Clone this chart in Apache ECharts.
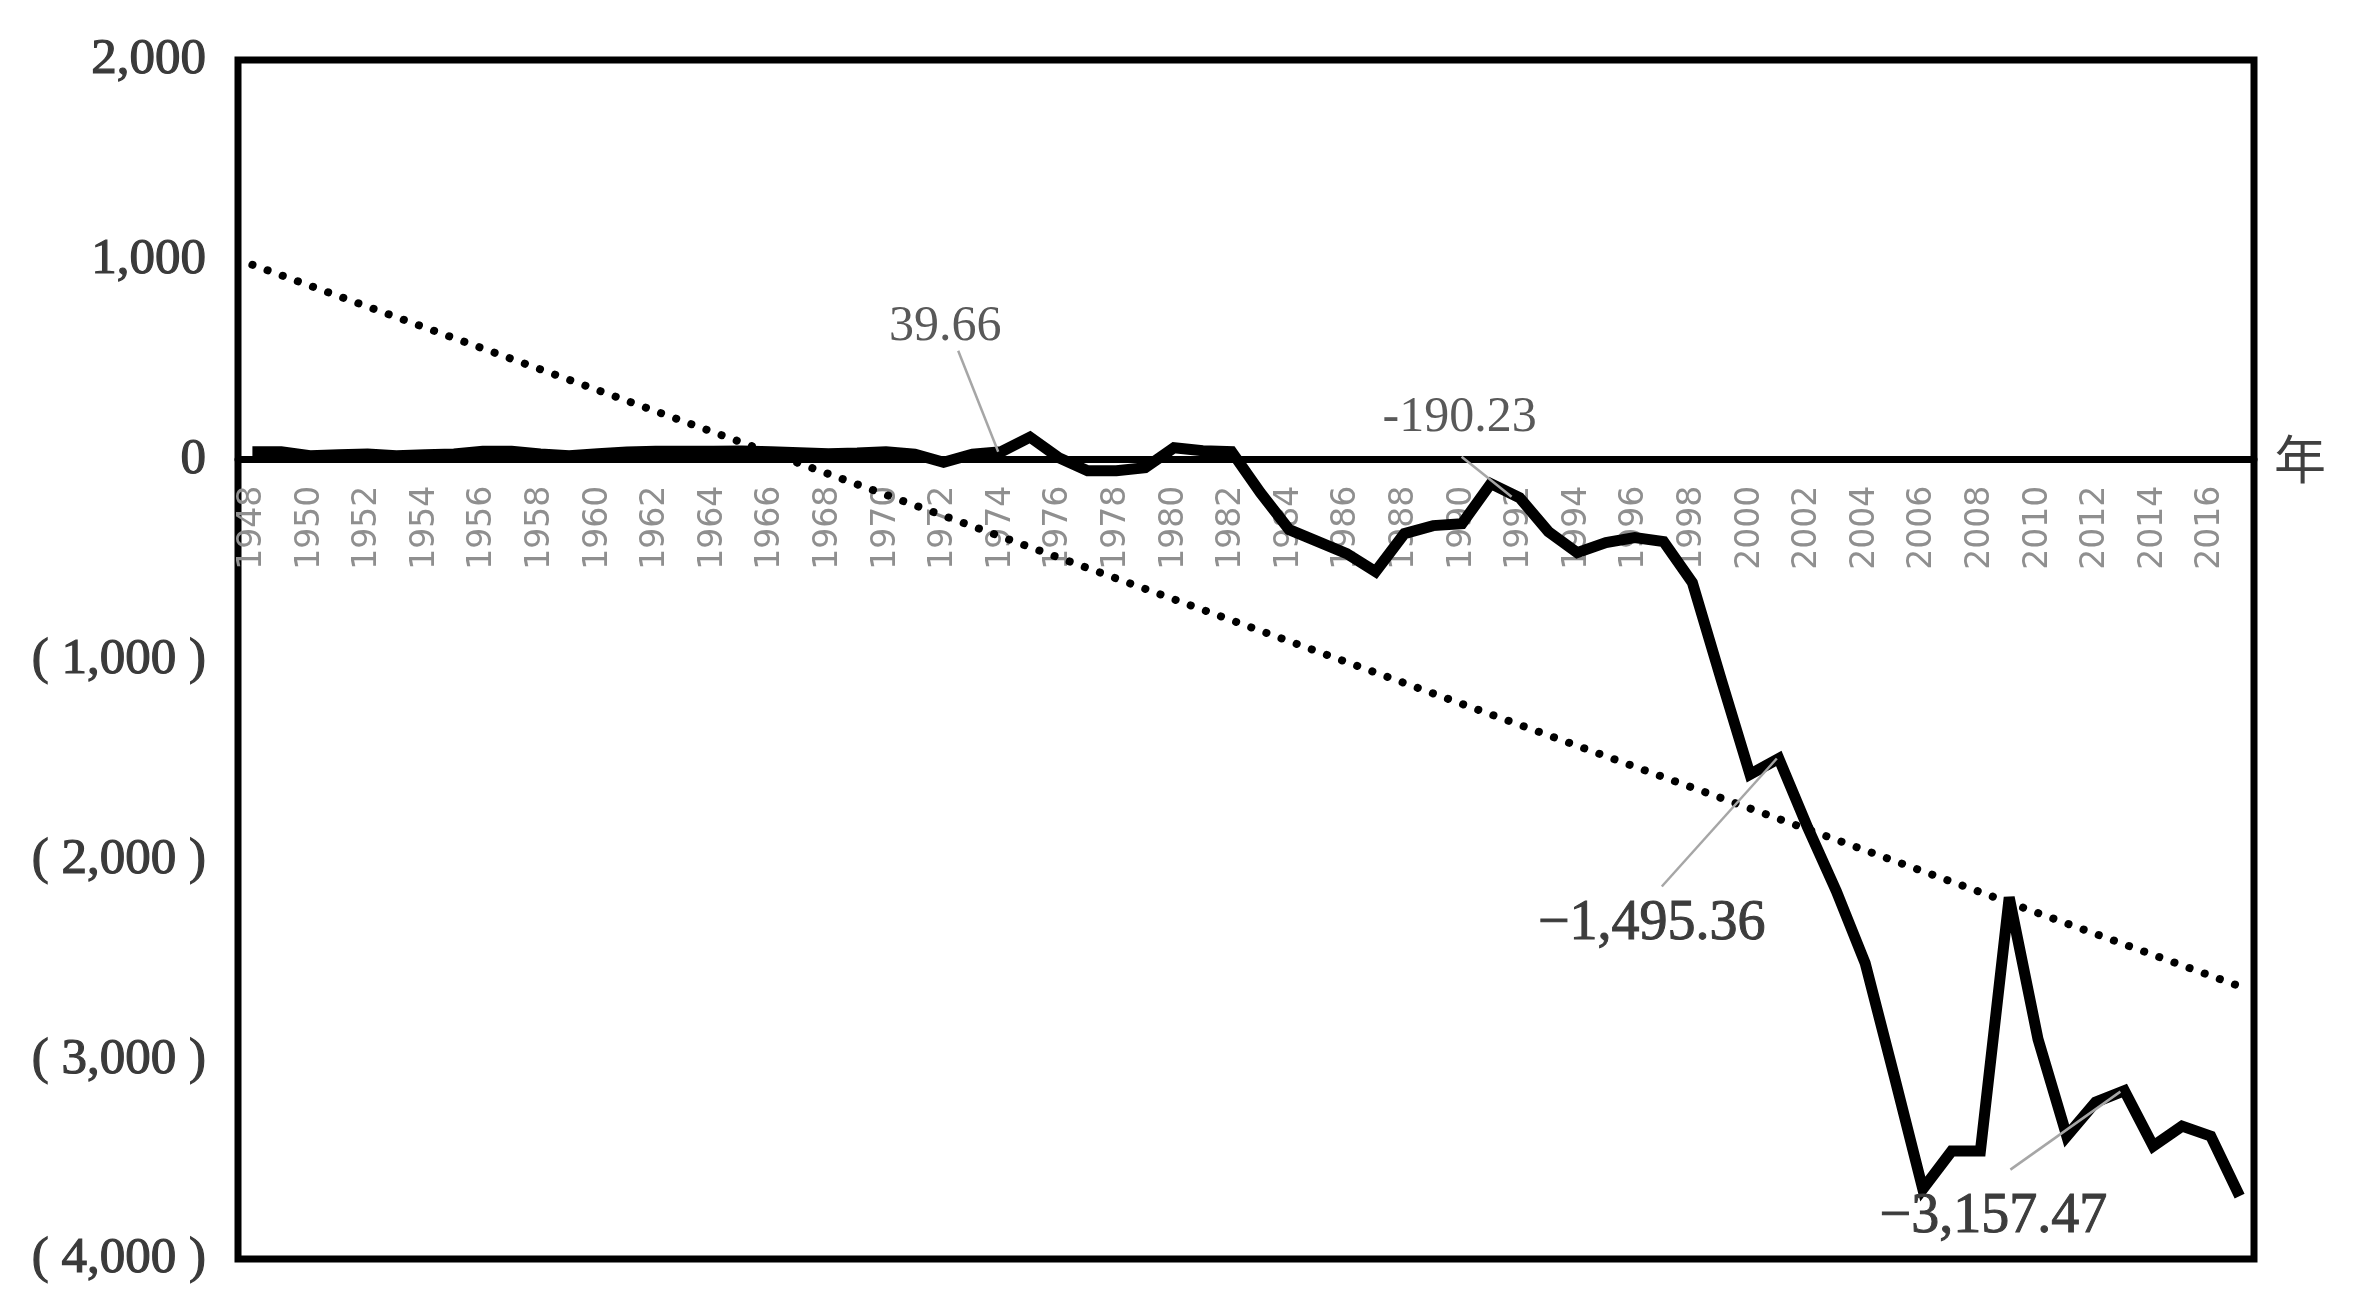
<!DOCTYPE html>
<html>
<head>
<meta charset="utf-8">
<script src="https://cdn.jsdelivr.net/npm/echarts/dist/echarts.min.js"></script>
<style>
html,body{margin:0;padding:0;background:#ffffff;}
#chart{width:2361px;height:1310px;}
</style>
</head>
<body>
<div id="chart"></div>
<script>
// ---------------- data ----------------
const years = ['1948','1949','1950','1951','1952','1953','1954','1955','1956','1957',
  '1958','1959','1960','1961','1962','1963','1964','1965','1966','1967',
  '1968','1969','1970','1971','1972','1973','1974','1975','1976','1977',
  '1978','1979','1980','1981','1982','1983','1984','1985','1986','1987',
  '1988','1989','1990','1991','1992','1993','1994','1995','1996','1997',
  '1998','1999','2000','2001','2002','2003','2004','2005','2006','2007',
  '2008','2009','2010','2011','2012','2013','2014','2015','2016','2017'];

const surplus = [40, 40, 20, 25, 28, 20, 25, 28, 42, 42,
  28, 20, 30, 38, 42, 42, 42, 43, 40, 35,
  30, 33, 40, 27, -13, 27, 39.66, 113, 10, -55,
  -55, -40, 60, 45, 40, -165, -350, -410, -470, -560,
  -370, -330, -320, -120, -190.23, -360, -465, -415, -390, -410,
  -615, -1100, -1575, -1495.36, -1840, -2160, -2520, -3080, -3650, -3460,
  -3460, -2190, -2900, -3385, -3215, -3157.47, -3435, -3335, -3385, -3685];

const trendYears = ['1948', '2017'];
const trendValues = [975, -2635];

const yTicks = [2000, 1000, 0, -1000, -2000, -3000, -4000];
const yTickLabels = ['2,000', '1,000', '0', '( 1,000 )', '( 2,000 )', '( 3,000 )', '( 4,000 )'];

const xAxisName = '年';

const annoYears = ['1974', '1992', '2001', '2013'];
const annoLabels = ['39.66', '-190.23', '\u22121,495.36', '\u22123,157.47'];

// ---------------- layout / style ----------------
const W = 2361, H = 1310;
const G = {left: 238, right: 107, top: 60, bottom: 51};
const Y_MIN = -4000, Y_MAX = 2000;
const gridH = H - G.top - G.bottom;
// move the category axis up to the zero line
const xOffset = -gridH * (0 - Y_MIN) / (Y_MAX - Y_MIN);

// annotation geometry relative to the annotated point: [text, leaderStart, leaderEnd]
const annoGeom = [
  {t: [-56, -125], s: [-43, -101], e: [-3, 0], size: 50, color: '#595959', stroke: 0},
  {t: [-60, -80], s: [-58, -41], e: [-8, -1], size: 50, color: '#595959', stroke: 0},
  {t: [-127, 166], s: [-117, 128], e: [-2, 0], size: 56, color: '#3c3c3c', stroke: 1},
  {t: [-131, 127], s: [-114, 79], e: [-4, 1], size: 56, color: '#3c3c3c', stroke: 1}
];

const chart = echarts.init(document.getElementById('chart'), null, {renderer: 'canvas'});

const option = {
  backgroundColor: '#ffffff',
  animation: false,
  grid: {
    left: G.left, right: G.right, top: G.top, bottom: G.bottom,
    containLabel: false,
    outerBoundsMode: 'none',
    show: true,
    borderColor: '#000000',
    borderWidth: 7,
    backgroundColor: 'transparent'
  },
  xAxis: {
    type: 'category',
    data: years,
    boundaryGap: true,
    offset: xOffset,
    name: xAxisName,
    nameLocation: 'end',
    nameGap: 20,
    nameTextStyle: {
      fontFamily: 'Noto Sans CJK SC',
      fontSize: 52,
      color: '#404040',
      verticalAlign: 'middle'
    },
    axisLine: {show: true, onZero: false, lineStyle: {color: '#000000', width: 7}},
    axisTick: {show: false},
    axisLabel: {
      interval: 1,
      rotate: 90,
      margin: 26,
      fontFamily: 'DejaVu Sans',
      fontSize: 33,
      color: '#8f8f8f'
    },
    splitLine: {show: false}
  },
  yAxis: {
    type: 'value',
    min: Y_MIN,
    max: Y_MAX,
    interval: 1000,
    axisLine: {show: false},
    axisTick: {show: false},
    splitLine: {show: false},
    axisLabel: {
      margin: 32,
      fontFamily: 'Liberation Serif',
      fontSize: 51,
      color: '#3a3a3a',
      textBorderColor: '#3a3a3a',
      textBorderWidth: 1.2,
      formatter: function (v) {
        const i = yTicks.indexOf(v);
        return i >= 0 ? yTickLabels[i] : '';
      }
    }
  },
  series: [
    {
      name: 'trend',
      type: 'line',
      z: 2,
      data: trendYears.map(function (y, i) { return [y, trendValues[i]]; }),
      showSymbol: false,
      symbol: 'none',
      lineStyle: {color: '#000000', width: 8, type: [0.1, 16], cap: 'round'},
      silent: true
    },
    {
      name: 'surplus',
      type: 'line',
      z: 3,
      data: surplus,
      showSymbol: false,
      symbol: 'none',
      lineStyle: {color: '#000000', width: 11, join: 'miter', miterLimit: 4},
      silent: true
    },
    {
      name: 'annotations',
      type: 'custom',
      z: 4,
      clip: false,
      silent: true,
      encode: {x: 0, y: 1},
      data: annoYears.map(function (y) { return [y, surplus[years.indexOf(y)]]; }),
      renderItem: function (params, api) {
        const i = params.dataIndex;
        const g = annoGeom[i];
        const p = api.coord([api.value(0), api.value(1)]);
        return {
          type: 'group',
          children: [
            {
              type: 'line',
              shape: {x1: p[0] + g.s[0], y1: p[1] + g.s[1], x2: p[0] + g.e[0], y2: p[1] + g.e[1]},
              style: {stroke: '#a6a6a6', lineWidth: 2.5}
            },
            {
              type: 'text',
              x: p[0] + g.t[0],
              y: p[1] + g.t[1],
              style: {
                text: annoLabels[i],
                fontFamily: 'Liberation Serif',
                fontSize: g.size,
                fill: g.color,
                stroke: g.stroke ? g.color : null,
                lineWidth: g.stroke,
                align: 'center',
                verticalAlign: 'middle'
              }
            }
          ]
        };
      }
    }
  ]
};

chart.setOption(option);
</script>
</body>
</html>
